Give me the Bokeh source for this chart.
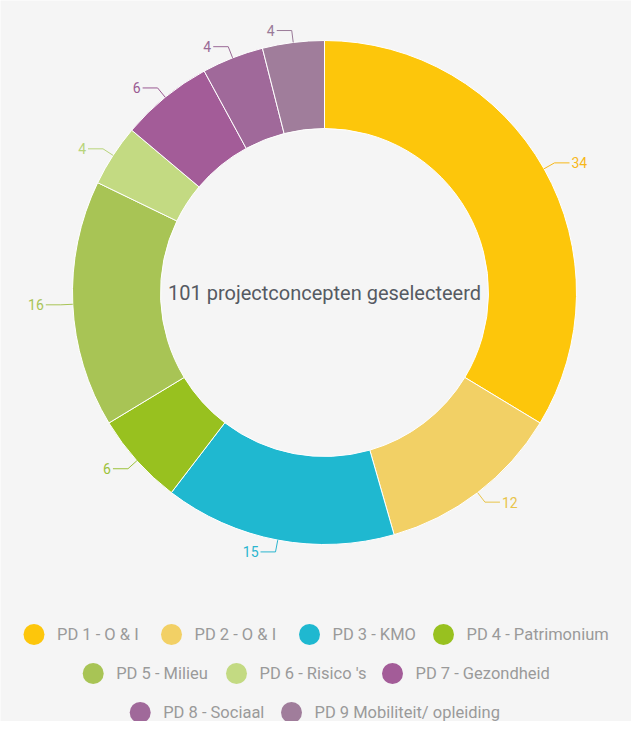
import numpy as np
from bokeh.plotting import figure
from bokeh.models import Range1d, ColumnDataSource
from bokeh.core.properties import value
from bokeh.embed import file_html
from bokeh.resources import INLINE

# ---- data ----
categories = ["PD 1 - O & I", "PD 2 - O & I", "PD 3 - KMO", "PD 4 - Patrimonium",
              "PD 5 - Milieu", "PD 6 - Risico 's", "PD 7 - Gezondheid",
              "PD 8 - Sociaal", "PD 9 Mobiliteit/ opleiding"]
values = [34, 12, 15, 6, 16, 4, 6, 4, 4]
colors = ["#fdc60b", "#f2d065", "#1fb8d0", "#98c11f", "#a8c455",
          "#c3da82", "#a35c98", "#a0699a", "#a07d9b"]
label_colors = ["#f7b81a", "#e8c44a", "#2bb5cf", "#9cc23a", "#a8c455",
                "#b8d47a", "#9a5a92", "#9a6a96", "#9a7a98"]
center_title = "101 projectconcepten geselecteerd"

# ---- layout ----
W, H = 631, 721
FONT = "Roboto"
BG = "#f5f5f5"

def sx(x):  # screenshot x -> data x
    return x - 8

def sy(y):  # screenshot y -> data y
    return H + 8 - y

CX, CY = sx(332), sy(300)
R_OUT, R_IN = 252, 164

p = figure(width=W, height=H, output_backend="svg", toolbar_location=None,
           x_range=Range1d(0, W), y_range=Range1d(0, H),
           min_border=0, background_fill_color=BG, border_fill_color=BG,
           outline_line_color=None)
p.axis.visible = False
p.grid.visible = False

vals = np.array(values, dtype=float)
total = vals.sum()
cum = np.concatenate([[0], np.cumsum(vals)])
start = np.pi / 2 - cum[:-1] / total * 2 * np.pi
end = np.pi / 2 - cum[1:] / total * 2 * np.pi

src = ColumnDataSource(dict(start=start, end=end, color=colors))
p.annular_wedge(x=CX, y=CY, inner_radius=R_IN, outer_radius=R_OUT,
                start_angle="start", end_angle="end", direction="clock",
                fill_color="color", line_color="white", line_width=1, source=src)

# data labels with connectors
mid = (start + end) / 2
xs, ys, tx, ty, ta = [], [], [], [], []
for a in mid:
    c, s = np.cos(a), np.sin(a)
    x0, y0 = CX + R_OUT * c, CY + R_OUT * s
    x1, y1 = CX + (R_OUT + 12) * c, CY + (R_OUT + 12) * s
    d = 1 if c >= 0 else -1
    x2 = x1 + 15 * d
    xs.append([x0, x1, x2]); ys.append([y0, y1, y1])
    tx.append(x2 + 2 * d); ty.append(y1)
    ta.append("left" if d > 0 else "right")
p.multi_line(xs=xs, ys=ys, line_color=label_colors, line_width=1)
p.text(x=tx, y=ty, text=[str(v) for v in values], text_align=ta,
       text_baseline="middle", text_color=label_colors,
       text_font=value(FONT), text_font_size="14px")

# center title
p.text(x=[CX], y=[CY], text=[center_title], text_align="center",
       text_baseline="middle", text_color="#555a62",
       text_font=value(FONT), text_font_size="20px")

# legend (manual, centered rows)
leg_cx = [41.5, 179, 317, 451, 100.7, 244, 400, 147.7, 299]
leg_cy = [642, 642, 642, 642, 681, 681, 681, 720, 720]
lx = [sx(v) for v in leg_cx]
ly = [sy(v) for v in leg_cy]
p.scatter(x=lx, y=ly, size=21, marker="circle", fill_color=colors, line_color=None)
p.text(x=[v + 23 for v in lx], y=ly, text=categories, text_align="left",
       text_baseline="middle", text_color="#9a9a9a",
       text_font=value(FONT), text_font_size="16.5px")

open("out.html", "w").write(file_html(p, INLINE))
